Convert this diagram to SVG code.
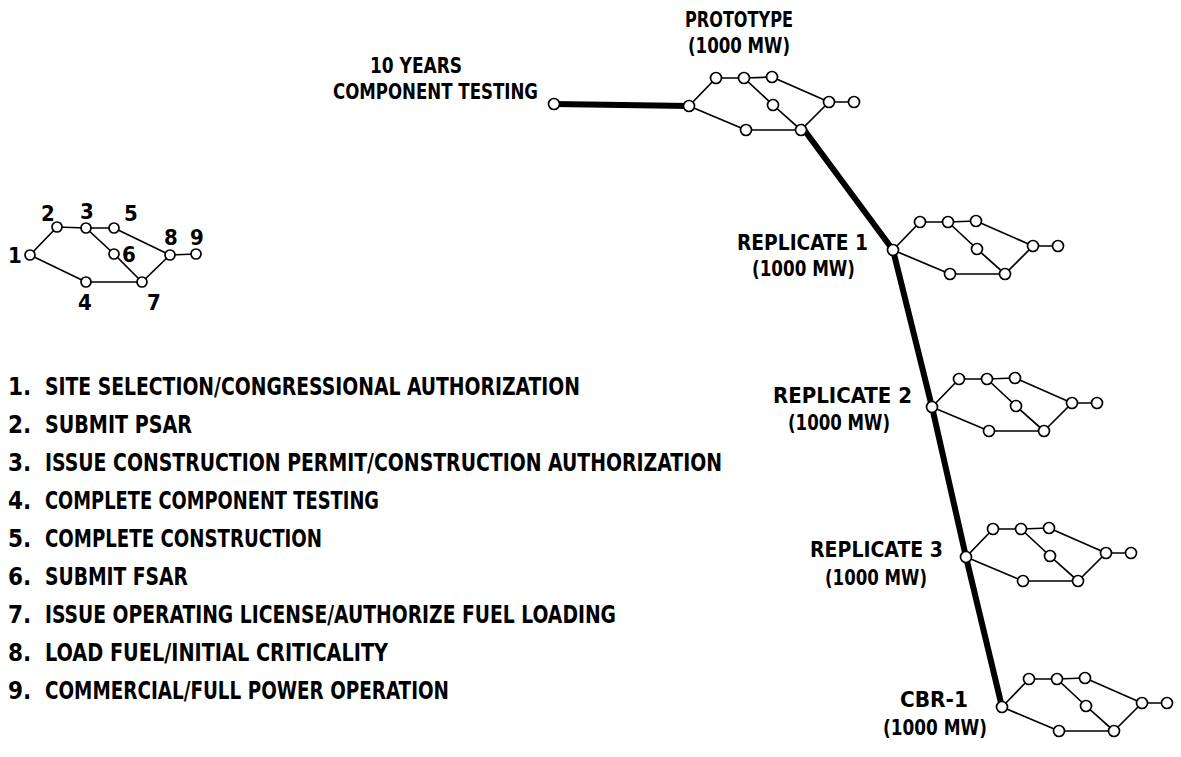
<svg xmlns="http://www.w3.org/2000/svg" width="1181" height="757" viewBox="0 0 1181 757">
  <style>
    .edge { fill: none; stroke: #000; stroke-width: 1.7; stroke-linejoin: round; }
    .ms { fill: #fff; stroke: #000; stroke-width: 1.7; }
    .route { fill: none; stroke: #000; stroke-width: 6; stroke-linecap: round; stroke-linejoin: round; }
    .t { font-family: "DejaVu Sans Condensed", "Liberation Sans Narrow", "Liberation Sans", sans-serif; font-weight: bold; fill: #000; }
    .lst { font-size: 24px; }
    .lbl { font-size: 22px; }
    .num { font-size: 22px; }
  </style>

  <!-- milestone network template: nodes A..I relative to entry node A -->
  <defs>
    <g id="net">
      <path class="edge" d="M0,0 L27,-28 L55,-28 L83,-29 L140,-4 L165,-4 M55,-28 L84,-1 L112,24 L140,-4 M0,0 L57,24 L112,24"/>
      <circle class="ms" cx="0" cy="0" r="5.5"/>
      <circle class="ms" cx="27" cy="-28" r="5.5"/>
      <circle class="ms" cx="55" cy="-28" r="5.5"/>
      <circle class="ms" cx="83" cy="-29" r="5.5"/>
      <circle class="ms" cx="84" cy="-1" r="5.5"/>
      <circle class="ms" cx="140" cy="-4" r="5.5"/>
      <circle class="ms" cx="165" cy="-4" r="5.5"/>
      <circle class="ms" cx="57" cy="24" r="5.5"/>
      <circle class="ms" cx="112" cy="24" r="5.5"/>
    </g>
  </defs>

  <!-- key network with numbered milestones -->
  <g id="key-network">
    <path class="edge" d="M30,255 L57,227 L86,228 L114,228 L170,255 L196,254 M86,228 L114,254 L142,282 L170,255 M30,255 L86,282 L142,282"/>
    <circle class="ms" cx="30" cy="255" r="5"/>
    <circle class="ms" cx="57" cy="227" r="5"/>
    <circle class="ms" cx="86" cy="228" r="5"/>
    <circle class="ms" cx="114" cy="228" r="5"/>
    <circle class="ms" cx="114" cy="254" r="5"/>
    <circle class="ms" cx="170" cy="255" r="5"/>
    <circle class="ms" cx="196" cy="254" r="5"/>
    <circle class="ms" cx="86" cy="282" r="5"/>
    <circle class="ms" cx="142" cy="282" r="5"/>
    <text class="t num" x="8" y="263">1</text>
    <text class="t num" x="41" y="221">2</text>
    <text class="t num" x="80" y="219">3</text>
    <text class="t num" x="124" y="221">5</text>
    <text class="t num" x="122" y="262">6</text>
    <text class="t num" x="164" y="245">8</text>
    <text class="t num" x="190" y="245">9</text>
    <text class="t num" x="78" y="310">4</text>
    <text class="t num" x="147" y="310">7</text>
  </g>

  <!-- milestone list -->
  <g id="key-list" class="t lst">
    <text x="8" y="395">1.</text><text x="45" y="395" textLength="535" lengthAdjust="spacingAndGlyphs">SITE SELECTION/CONGRESSIONAL AUTHORIZATION</text>
    <text x="8" y="433">2.</text><text x="45" y="433" textLength="147" lengthAdjust="spacingAndGlyphs">SUBMIT PSAR</text>
    <text x="8" y="471">3.</text><text x="45" y="471" textLength="677" lengthAdjust="spacingAndGlyphs">ISSUE CONSTRUCTION PERMIT/CONSTRUCTION AUTHORIZATION</text>
    <text x="8" y="509">4.</text><text x="45" y="509" textLength="334" lengthAdjust="spacingAndGlyphs">COMPLETE COMPONENT TESTING</text>
    <text x="8" y="547">5.</text><text x="45" y="547" textLength="277" lengthAdjust="spacingAndGlyphs">COMPLETE CONSTRUCTION</text>
    <text x="8" y="585">6.</text><text x="45" y="585" textLength="143" lengthAdjust="spacingAndGlyphs">SUBMIT FSAR</text>
    <text x="8" y="623">7.</text><text x="45" y="623" textLength="571" lengthAdjust="spacingAndGlyphs">ISSUE OPERATING LICENSE/AUTHORIZE FUEL LOADING</text>
    <text x="8" y="661">8.</text><text x="45" y="661" textLength="343" lengthAdjust="spacingAndGlyphs">LOAD FUEL/INITIAL CRITICALITY</text>
    <text x="8" y="699">9.</text><text x="45" y="699" textLength="404" lengthAdjust="spacingAndGlyphs">COMMERCIAL/FULL POWER OPERATION</text>
  </g>

  <!-- thick schedule lines linking the plants -->
  <g id="connectors">
    <path class="route" d="M554,104 L689,106"/>
    <path class="route" d="M802,127 L893,250 L932,407 L966,557 L1002,707"/>
  </g>

  <!-- component testing start -->
  <g id="component-testing">
    <circle class="ms" cx="554" cy="104" r="5.5"/>
    <text class="t lbl" x="370" y="73" textLength="92" lengthAdjust="spacingAndGlyphs">10 YEARS</text>
    <text class="t lbl" x="333" y="99" textLength="205" lengthAdjust="spacingAndGlyphs">COMPONENT TESTING</text>
  </g>

  <g id="prototype">
    <use href="#net" x="689" y="106"/>
    <text class="t lbl" x="685" y="27" textLength="108" lengthAdjust="spacingAndGlyphs">PROTOTYPE</text>
    <text class="t lbl" x="688" y="53" textLength="102" lengthAdjust="spacingAndGlyphs">(1000 MW)</text>
  </g>

  <g id="replicate-1">
    <use href="#net" x="893" y="250"/>
    <text class="t lbl" x="737" y="250" textLength="131" lengthAdjust="spacingAndGlyphs">REPLICATE 1</text>
    <text class="t lbl" x="752" y="276" textLength="103" lengthAdjust="spacingAndGlyphs">(1000 MW)</text>
  </g>

  <g id="replicate-2">
    <use href="#net" x="932" y="407"/>
    <text class="t lbl" x="773" y="403" textLength="139" lengthAdjust="spacingAndGlyphs">REPLICATE 2</text>
    <text class="t lbl" x="788" y="430" textLength="102" lengthAdjust="spacingAndGlyphs">(1000 MW)</text>
  </g>

  <g id="replicate-3">
    <use href="#net" x="966" y="557"/>
    <text class="t lbl" x="810" y="557" textLength="133" lengthAdjust="spacingAndGlyphs">REPLICATE 3</text>
    <text class="t lbl" x="825" y="585" textLength="102" lengthAdjust="spacingAndGlyphs">(1000 MW)</text>
  </g>

  <g id="cbr-1">
    <use href="#net" x="1002" y="707"/>
    <text class="t lbl" x="900" y="707" textLength="68" lengthAdjust="spacingAndGlyphs">CBR-1</text>
    <text class="t lbl" x="883" y="735" textLength="104" lengthAdjust="spacingAndGlyphs">(1000 MW)</text>
  </g>
</svg>
